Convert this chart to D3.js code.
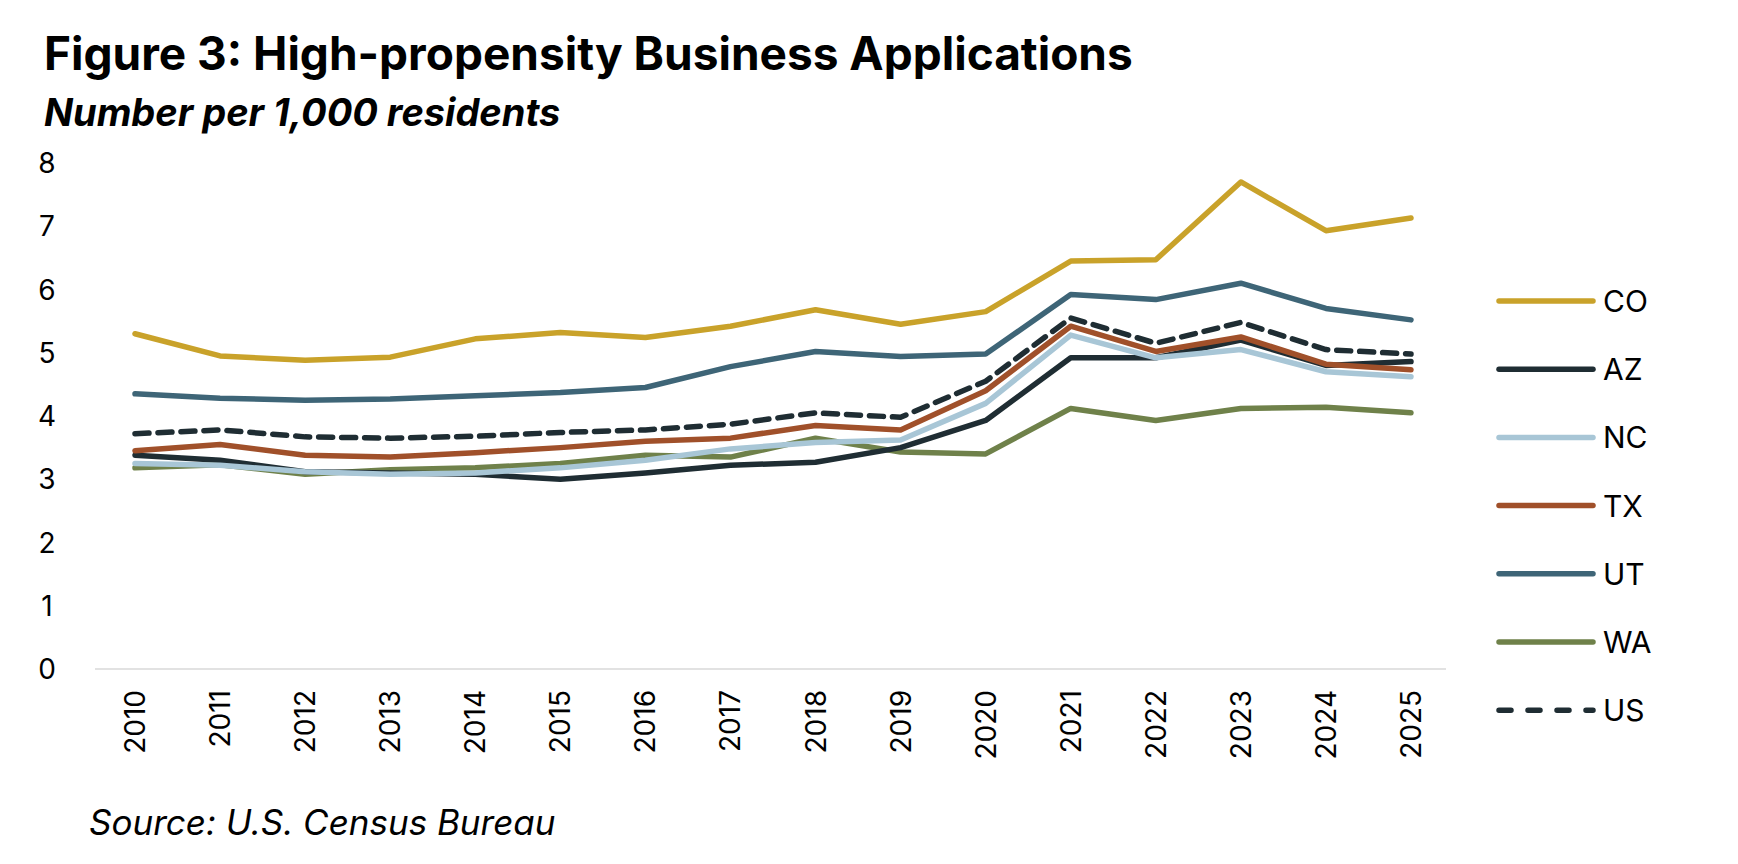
<!DOCTYPE html>
<html><head><meta charset="utf-8">
<script src="https://cdn.jsdelivr.net/npm/d3@7"></script>
<style>body{margin:0;background:#fff}text{font-family:Inter,"Noto Sans",sans-serif}</style>
</head><body><svg id="c" width="1738" height="864"></svg>
<script>
var years = d3.range(2010, 2026);
var yTicks = [0,1,2,3,4,5,6,7,8];
var CO = [5.3,4.95,4.88,4.93,5.22,5.32,5.24,5.42,5.68,5.45,5.65,6.45,6.47,7.7,6.93,7.13];
var AZ = [3.38,3.3,3.12,3.1,3.08,3.0,3.1,3.22,3.27,3.5,3.93,4.92,4.92,5.2,4.8,4.86];
var NC = [3.25,3.22,3.12,3.08,3.1,3.18,3.3,3.48,3.58,3.62,4.2,5.28,4.92,5.05,4.7,4.62];
var TX = [3.45,3.55,3.38,3.35,3.42,3.5,3.6,3.65,3.85,3.78,4.4,5.42,5.02,5.25,4.82,4.73];
var UT = [4.35,4.28,4.25,4.27,4.32,4.37,4.45,4.78,5.02,4.94,4.98,5.92,5.84,6.1,5.7,5.52];
var WA = [3.18,3.23,3.08,3.15,3.18,3.25,3.38,3.35,3.65,3.43,3.4,4.12,3.93,4.12,4.14,4.05];
var US = [3.72,3.78,3.67,3.65,3.68,3.74,3.78,3.87,4.05,3.98,4.55,5.55,5.15,5.48,5.05,4.98];

var series = [
  {name:'CO', values:CO, color:'#C9A22A'},
  {name:'AZ', values:AZ, color:'#1F2D33'},
  {name:'NC', values:NC, color:'#A8C6D6'},
  {name:'TX', values:TX, color:'#A0502A'},
  {name:'UT', values:UT, color:'#3E6577'},
  {name:'WA', values:WA, color:'#6F814A'},
  {name:'US', values:US, color:'#1F2D33', dash:'14,9'}
];
var drawOrder = ['UT','CO','WA','AZ','NC','TX','US'];

var svg = d3.select('#c');
var x = d3.scalePoint().domain(years).range([135, 1411]);
var y = d3.scaleLinear().domain([0, 8]).range([669, 163]);

svg.append('text').attr('x', 44).attr('y', 70).style('font-size', '46px').style('font-weight', 700).text('Figure 3: High-propensity Business Applications');
svg.append('text').attr('x', 44).attr('y', 126).style('font-size', '38px').style('font-weight', 700).style('font-style', 'italic').text('Number per 1,000 residents');

svg.append('line').attr('x1', 95).attr('x2', 1446).attr('y1', y(0)).attr('y2', y(0)).attr('stroke', '#d9d9d9').attr('stroke-width', 1.5);

svg.selectAll('.yt').data(yTicks).enter().append('text')
  .attr('x', 47).attr('y', function(d){ return y(d) + 10; })
  .attr('text-anchor', 'middle').style('font-size', '28px').text(function(d){ return d; });

svg.selectAll('.xt').data(years).enter().append('text')
  .attr('transform', function(d){ return 'translate(' + (x(d) + 10) + ',690) rotate(-90)'; })
  .attr('text-anchor', 'end').style('font-size', '28px').text(function(d){ return d; });

var line = d3.line().x(function(d, i){ return x(years[i]); }).y(function(d){ return y(d); });

drawOrder.forEach(function(n){
  var s = series.find(function(d){ return d.name === n; });
  svg.append('path').attr('d', line(s.values)).attr('fill', 'none')
    .attr('stroke', s.color).attr('stroke-width', 5.5)
    .attr('stroke-linejoin', 'round').attr('stroke-linecap', 'round')
    .attr('stroke-dasharray', s.dash || null);
});

var lg = svg.selectAll('.lg').data(series).enter().append('g')
  .attr('transform', function(d, i){ return 'translate(0,' + (301 + i * 68.2) + ')'; });
lg.append('line').attr('x1', 1499).attr('x2', 1593).attr('stroke', function(d){ return d.color; })
  .attr('stroke-width', 5.5).attr('stroke-linecap', 'round').attr('stroke-dasharray', function(d){ return d.dash ? '12,17' : null; });
lg.append('text').attr('x', 1603).attr('y', 11).style('font-size', '30px').text(function(d){ return d.name; });

svg.append('text').attr('x', 89).attr('y', 835).style('font-size', '35px').style('font-style', 'italic').text('Source: U.S. Census Bureau');
</script></body></html>
